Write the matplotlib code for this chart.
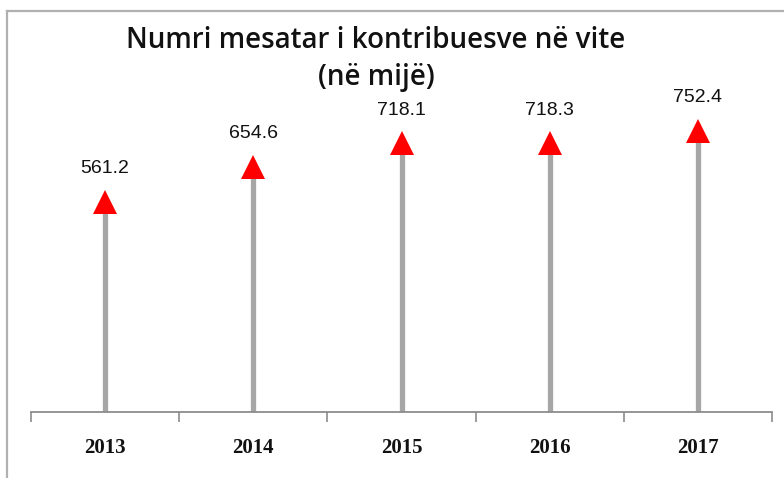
import matplotlib
matplotlib.use("Agg")
import matplotlib.pyplot as plt
from matplotlib.lines import Line2D

years = ["2013", "2014", "2015", "2016", "2017"]
values = [561.2, 654.6, 718.1, 718.3, 752.4]
labels = ["561.2", "654.6", "718.1", "718.3", "752.4"]

W, H = 784, 478
fig = plt.figure(figsize=(W / 100, H / 100), dpi=100)
fig.patch.set_facecolor("white")

ax = fig.add_axes([31 / W, (H - 412) / H, (772 - 31) / W, (412 - 38) / H])
x = list(range(len(years)))
ax.vlines(x, 0, values, color="#a6a6a6", linewidth=3.8, zorder=2)
ax.plot(x, values, linestyle="none", marker="^", markersize=17,
        color="#ff0000", markeredgewidth=0, zorder=3)
for xi, v, lab in zip(x, values, labels):
    ax.annotate(lab, (xi, v), xytext=(0, 24), textcoords="offset points",
                ha="center", va="center", fontsize=14,
                family="Liberation Sans", color="#111111")

ax.set_xlim(-0.5, len(years) - 0.5)
ax.set_ylim(0, 1000)
ax.set_yticks([])
for s in ["left", "right", "top"]:
    ax.spines[s].set_visible(False)
ax.spines["bottom"].set_color("#8c8c8c")
ax.spines["bottom"].set_linewidth(1.3)
ax.set_xticks([i - 0.5 for i in range(len(years) + 1)])
ax.set_xticklabels([])
ax.set_xticks(x, minor=True)
ax.set_xticklabels(years, minor=True, fontsize=15, family="Liberation Serif",
                   weight="bold", color="#111111")
ax.tick_params(axis="x", which="major", length=7, width=1.2, color="#8c8c8c",
               direction="out")
ax.tick_params(axis="x", which="minor", length=0, pad=19)

fig.text(376 / W, 1 - 40 / H, "Numri mesatar i kontribuesve në vite",
         ha="center", va="center", fontsize=20, family="Open Sans",
         weight="semibold", color="#111111")
fig.text(376 / W, 1 - 77 / H, "(në mijë)",
         ha="center", va="center", fontsize=20, family="Open Sans",
         weight="semibold", color="#111111")

# outer frame (left and top)
fig.add_artist(Line2D([7 / W, 7 / W], [0, 1 - 11 / H], transform=fig.transFigure,
                      color="#b0b0b0", linewidth=1.6))
fig.add_artist(Line2D([7 / W, 1], [1 - 11 / H, 1 - 11 / H], transform=fig.transFigure,
                      color="#b0b0b0", linewidth=1.6))

fig.savefig("out.png", dpi=100, facecolor="white")
